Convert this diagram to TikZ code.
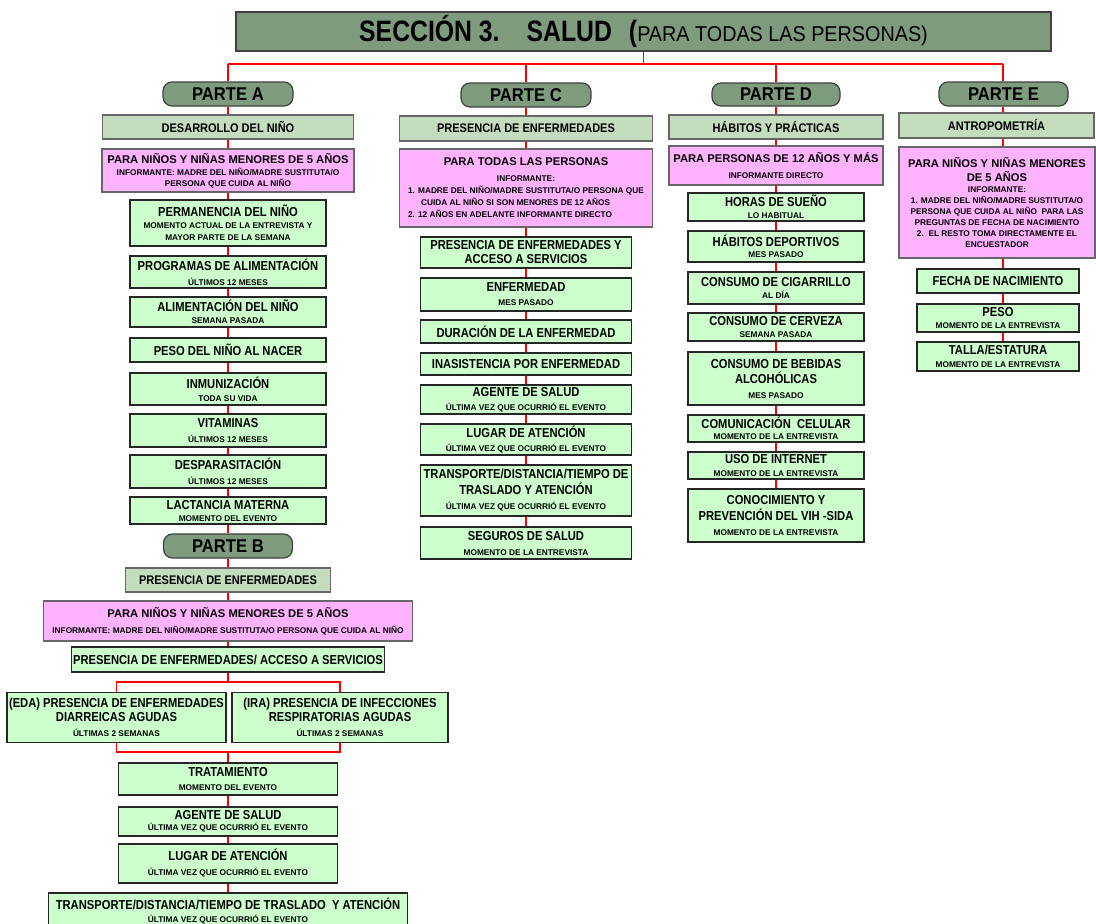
\documentclass[tikz,border=0pt]{standalone}
\usepackage{fontspec}
\setmainfont{Liberation Sans}
\newfontfamily\itemfam[FakeStretch=0.86]{Liberation Sans}
\newfontfamily\headfam[FakeStretch=0.88]{Liberation Sans}
\newfontfamily\pillfam[FakeStretch=0.9]{Liberation Sans}
\newfontfamily\titlefam[FakeStretch=0.84]{Liberation Sans}
\newfontfamily\subtitlefam[FakeStretch=0.92]{Liberation Sans}

\definecolor{darkgreen}{RGB}{127,155,126}
\definecolor{headgreen}{RGB}{195,221,190}
\definecolor{pinkfill}{RGB}{255,179,255}
\definecolor{itemgreen}{RGB}{204,255,204}
\definecolor{linkred}{RGB}{255,0,0}

% line types inside the boxes
\newcommand\ttl[1]{{\itemfam\bfseries\fontsize{13}{13}\selectfont #1}}
\newcommand\sbl[1]{{\bfseries\fontsize{8.3}{12}\selectfont #1}}
\newcommand\pttl[1]{{\bfseries\fontsize{11.2}{13}\selectfont #1}}
\newcommand\boxfont{\fontsize{8.3}{11.5}\selectfont}
\lineskiplimit=-30pt

\begin{document}
\begin{tikzpicture}[x=1pt,y=-1pt,
  wh/.style 2 args={minimum width=#1pt, minimum height=#2pt},
  link/.style={draw=linkred, line width=1.6pt},
  boxtext/.style={inner sep=0pt, align=center, font=\boxfont},
  titlebox/.style={draw=black!75, fill=darkgreen, line width=1.2pt, inner sep=0pt},
  pill/.style={draw=black!75, fill=darkgreen, line width=1.2pt, rounded corners=9pt,
    inner sep=0pt, font=\pillfam\bfseries\fontsize{18.5}{20}\selectfont},
  head/.style={draw=black!60, fill=headgreen, line width=1.2pt, inner sep=0pt,
    font=\headfam\bfseries\fontsize{12.5}{14}\selectfont},
  pinkbox/.style={boxtext, draw=black!60, fill=pinkfill, line width=1.2pt},
  item/.style={boxtext, draw=black!85, fill=itemgreen, line width=1.1pt},
]
\useasboundingbox[fill=white] (0,0) rectangle (1096,924);

% ---------- title ----------
\node[titlebox, wh={815}{39}] (title) at (643.5,31.5)
  {{\titlefam\bfseries\fontsize{29.5}{30}\selectfont SECCIÓN~3.\hspace*{27pt}SALUD\hspace*{17pt}(}{\subtitlefam\fontsize{21.5}{22}\selectfont PARA TODAS LAS PERSONAS)}};

% ---------- part headings ----------
\node[pill, wh={130}{24}] (pA) at (228,94) {PARTE A};
\node[pill, wh={130}{24}] (pC) at (526,95) {PARTE C};
\node[pill, wh={128}{23}] (pD) at (776,94.5) {PARTE D};
\node[pill, wh={129}{24}] (pE) at (1003.5,94) {PARTE E};

% ---------- PARTE A ----------
\node[head, wh={251}{24}] (hA) at (228,127) {DESARROLLO DEL NIÑO};
\node[pinkbox, wh={252}{43}] (kA) at (228,170.5)
  {\pttl{PARA NIÑOS Y NIÑAS MENORES DE 5 AÑOS}\\[1.1pt]\sbl{INFORMANTE: MADRE DEL NIÑO/MADRE SUSTITUTA/O}\\[-0.8pt]\sbl{PERSONA QUE CUIDA AL NIÑO}};
\node[item, wh={196}{46}] (a1) at (228,223)
  {\ttl{PERMANENCIA DEL NIÑO}\\\sbl{MOMENTO ACTUAL DE LA ENTREVISTA Y}\\[0.5pt]\sbl{MAYOR PARTE DE LA SEMANA}};
\node[item, wh={196}{32}] (a2) at (228,272)
  {\ttl{PROGRAMAS DE ALIMENTACIÓN}\\[3.5pt]\sbl{ÚLTIMOS 12 MESES}};
\node[item, wh={196}{30}] (a3) at (228,312)
  {\ttl{ALIMENTACIÓN DEL NIÑO}\\[0.8pt]\sbl{SEMANA PASADA}};
\node[item, wh={196}{24}] (a4) at (228,350)
  {\ttl{PESO DEL NIÑO AL NACER}};
\node[item, wh={196}{32}] (a5) at (228,389)
  {\ttl{INMUNIZACIÓN}\\[1.2pt]\sbl{TODA SU VIDA}};
\node[item, wh={196}{33}] (a6) at (228,430.5)
  {\ttl{VITAMINAS}\\[4.2pt]\sbl{ÚLTIMOS 12 MESES}};
\node[item, wh={196}{33}] (a7) at (228,471.5)
  {\ttl{DESPARASITACIÓN}\\[3.5pt]\sbl{ÚLTIMOS 12 MESES}};
\node[item, wh={196}{27}] (a8) at (228,510.5)
  {\ttl{LACTANCIA MATERNA}\\[0.5pt]\sbl{MOMENTO DEL EVENTO}};

% ---------- PARTE B ----------
\node[pill, wh={129}{24}] (pB) at (228,546) {PARTE B};
\node[head, wh={205}{24}] (hB) at (228,580) {PRESENCIA DE ENFERMEDADES};
\node[pinkbox, wh={369}{40}] (kB) at (228,621)
  {\pttl{PARA NIÑOS Y NIÑAS MENORES DE 5 AÑOS}\\[4.2pt]\sbl{INFORMANTE: MADRE DEL NIÑO/MADRE SUSTITUTA/O PERSONA QUE CUIDA AL NIÑO}};
\node[item, wh={313}{25}] (b0) at (228,659.5)
  {\ttl{PRESENCIA DE ENFERMEDADES/ ACCESO A SERVICIOS}};
\node[item, wh={219}{50}] (bE) at (116.5,717.5)
  {\ttl{(EDA) PRESENCIA DE ENFERMEDADES}\\[2.5pt]\ttl{DIARREICAS AGUDAS}\\[3.5pt]\sbl{ÚLTIMAS 2 SEMANAS}};
\node[item, wh={216}{50}] (bI) at (340,717.5)
  {\ttl{(IRA) PRESENCIA DE INFECCIONES}\\[2.5pt]\ttl{RESPIRATORIAS AGUDAS}\\[3.5pt]\sbl{ÚLTIMAS 2 SEMANAS}};
\node[item, wh={219}{32}] (b1) at (228,779)
  {\ttl{TRATAMIENTO}\\[3pt]\sbl{MOMENTO DEL EVENTO}};
\node[item, wh={219}{29}] (b2) at (228,821.5)
  {\ttl{AGENTE DE SALUD}\\\sbl{ÚLTIMA VEZ QUE OCURRIÓ EL EVENTO}};
\node[item, wh={219}{39}] (b3) at (228,863.5)
  {\ttl{LUGAR DE ATENCIÓN}\\[3.5pt]\sbl{ÚLTIMA VEZ QUE OCURRIÓ EL EVENTO}};
\node[item, wh={359}{36}] (b4) at (228,911)
  {\ttl{TRANSPORTE/DISTANCIA/TIEMPO DE TRASLADO\ \ Y ATENCIÓN}\\[2pt]\sbl{ÚLTIMA VEZ QUE OCURRIÓ EL EVENTO}};

% ---------- PARTE C ----------
\node[head, wh={253}{25}] (hC) at (526,128.5) {PRESENCIA DE ENFERMEDADES};
\node[pinkbox, wh={253}{78}] (kC) at (526,188)
  {\pttl{PARA TODAS LAS PERSONAS}\\[4.5pt]\sbl{INFORMANTE:}\\[0.5pt]
   \sbl{\vtop{\baselineskip=12pt
     \hbox{1. MADRE DEL NIÑO/MADRE SUSTITUTA/O PERSONA QUE}
     \hbox{\hspace*{13pt}CUIDA AL NIÑO SI SON MENORES DE 12 AÑOS}
     \hbox{2. 12 AÑOS EN ADELANTE INFORMANTE DIRECTO}}}};
\node[item, wh={211}{31}] (c1) at (526,252.5)
  {\ttl{PRESENCIA DE ENFERMEDADES Y}\\[2.5pt]\ttl{ACCESO A SERVICIOS}};
\node[item, wh={211}{33}] (c2) at (526,294.5)
  {\ttl{ENFERMEDAD}\\[2.5pt]\sbl{MES PASADO}};
\node[item, wh={211}{23}] (c3) at (526,331.5)
  {\ttl{DURACIÓN DE LA ENFERMEDAD}};
\node[item, wh={211}{22}] (c4) at (526,364)
  {\ttl{INASISTENCIA POR ENFERMEDAD}};
\node[item, wh={211}{29}] (c5) at (526,399.5)
  {\ttl{AGENTE DE SALUD}\\[2.5pt]\sbl{ÚLTIMA VEZ QUE OCURRIÓ EL EVENTO}};
\node[item, wh={211}{31}] (c6) at (526,439.5)
  {\ttl{LUGAR DE ATENCIÓN}\\[2.5pt]\sbl{ÚLTIMA VEZ QUE OCURRIÓ EL EVENTO}};
\node[item, wh={211}{51}] (c7) at (526,490.5)
  {\ttl{TRANSPORTE/DISTANCIA/TIEMPO DE}\\[4.5pt]\ttl{TRASLADO Y ATENCIÓN}\\[3.5pt]\sbl{ÚLTIMA VEZ QUE OCURRIÓ EL EVENTO}};
\node[item, wh={211}{32}] (c8) at (526,543)
  {\ttl{SEGUROS DE SALUD}\\[3.5pt]\sbl{MOMENTO DE LA ENTREVISTA}};

% ---------- PARTE D ----------
\node[head, wh={214}{24}] (hD) at (776,127) {HÁBITOS Y PRÁCTICAS};
\node[pinkbox, wh={214}{39}] (kD) at (776,165.5)
  {\pttl{PARA PERSONAS DE 12 AÑOS Y MÁS}\\[4.5pt]\sbl{INFORMANTE DIRECTO}};
\node[item, wh={176}{28}] (d1) at (776,207)
  {\ttl{HORAS DE SUEÑO}\\\sbl{LO HABITUAL}};
\node[item, wh={176}{31}] (d2) at (776,246.5)
  {\ttl{HÁBITOS DEPORTIVOS}\\\sbl{MES PASADO}};
\node[item, wh={176}{32}] (d3) at (776,288)
  {\ttl{CONSUMO DE CIGARRILLO}\\\sbl{AL DÍA}};
\node[item, wh={176}{28}] (d4) at (776,327)
  {\ttl{CONSUMO DE CERVEZA}\\[0.8pt]\sbl{SEMANA PASADA}};
\node[item, wh={176}{53}] (d5) at (776,378.5)
  {\ttl{CONSUMO DE BEBIDAS}\\[4pt]\ttl{ALCOHÓLICAS}\\[3pt]\sbl{MES PASADO}};
\node[item, wh={176}{27}] (d6) at (776,428.5)
  {\ttl{COMUNICACIÓN\ \ CELULAR}\\\sbl{MOMENTO DE LA ENTREVISTA}};
\node[item, wh={176}{27}] (d7) at (776,465.5)
  {\ttl{USO DE INTERNET}\\[2pt]\sbl{MOMENTO DE LA ENTREVISTA}};
\node[item, wh={176}{53}] (d8) at (776,515.5)
  {\ttl{CONOCIMIENTO Y}\\[4.5pt]\ttl{PREVENCIÓN DEL VIH -SIDA}\\[3pt]\sbl{MOMENTO DE LA ENTREVISTA}};

% ---------- PARTE E ----------
\node[head, wh={195}{25}] (hE) at (996.5,125.5) {ANTROPOMETRÍA};
\node[pinkbox, wh={196}{111}] (kE) at (997,202.5)
  {\pttl{PARA NIÑOS Y NIÑAS MENORES}\\[2.5pt]\pttl{DE 5 AÑOS}\\[-0.5pt]\sbl{INFORMANTE:}\\[-0.5pt]
   \sbl{1. MADRE DEL NIÑO/MADRE SUSTITUTA/O}\\[-0.5pt]\sbl{PERSONA QUE CUIDA AL NIÑO\ \ PARA LAS}\\[-0.5pt]
   \sbl{PREGUNTAS DE FECHA DE NACIMIENTO}\\[-0.5pt]\sbl{2.\ \ EL RESTO TOMA DIRECTAMENTE EL}\\[-0.5pt]\sbl{ENCUESTADOR}};
\node[item, wh={162}{24}] (e1) at (998,281)
  {\ttl{FECHA DE NACIMIENTO}};
\node[item, wh={162}{28}] (e2) at (998,318)
  {\ttl{PESO}\\[0.5pt]\sbl{MOMENTO DE LA ENTREVISTA}};
\node[item, wh={162}{29}] (e3) at (998,356.5)
  {\ttl{TALLA/ESTATURA}\\[1pt]\sbl{MOMENTO DE LA ENTREVISTA}};

% ---------- connectors ----------
\coordinate (busL) at (228,64);
\coordinate (busR) at (1003,64);
\draw[link] (title.south) -- (title.south |- busL);
\draw[link] (busL) -- (busR);
\draw[link] (busL) -- (pA.north);
\draw[link] (pC.north |- busL) -- (pC.north);
\draw[link] (pD.north |- busL) -- (pD.north);
\draw[link] (busR) -- (pE.north -| busR);

\foreach \u/\v in {pA/hA,hA/kA,kA/a1,a1/a2,a2/a3,a3/a4,a4/a5,a5/a6,a6/a7,a7/a8,a8/pB,
                   pB/hB,hB/kB,kB/b0,b1/b2,b2/b3,b3/b4,
                   pC/hC,hC/kC,kC/c1,c1/c2,c2/c3,c3/c4,c4/c5,c5/c6,c6/c7,c7/c8,
                   pD/hD,hD/kD,kD/d1,d1/d2,d2/d3,d3/d4,d4/d5,d5/d6,d6/d7,d7/d8}
  \draw[link] (\u.south) -- (\v.north -| \u.south);

\foreach \u/\v in {pE/hE,hE/kE,kE/e1,e1/e2,e2/e3}
  \draw[link] (\u.south -| busR) -- (\v.north -| busR);

\coordinate (forkB) at (228,682);
\coordinate (joinB) at (228,752);
\draw[link] (b0.south) -- (forkB);
\draw[link] (bE.north) |- (forkB) -| (bI.north);
\draw[link] (bE.south) |- (joinB) -| (bI.south);
\draw[link] (joinB) -- (b1.north);
\end{tikzpicture}
\end{document}
